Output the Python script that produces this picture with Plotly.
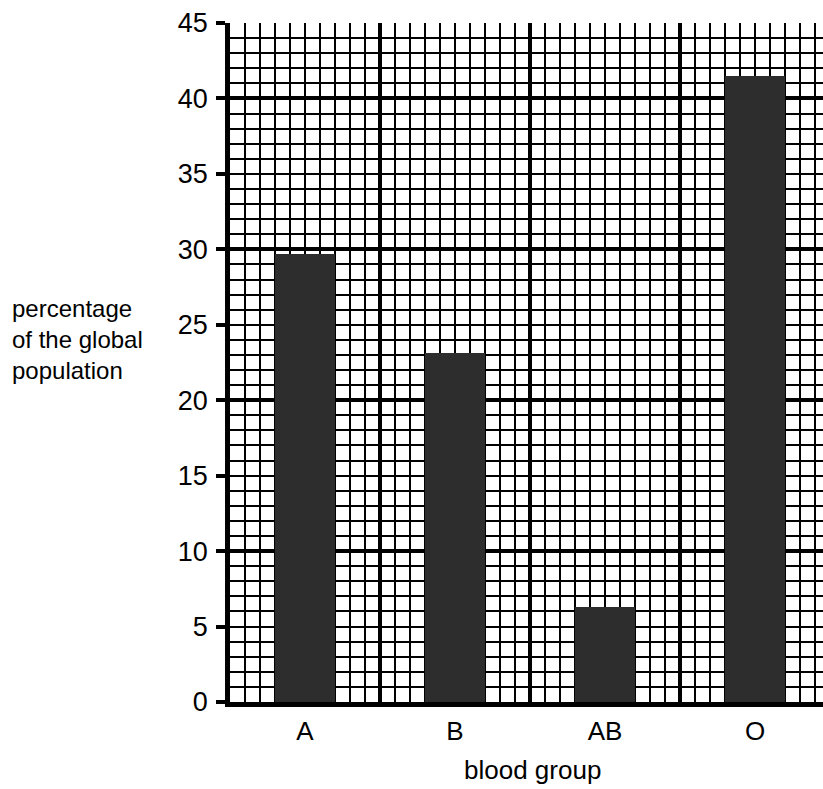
"""Blood group bar chart on graph paper"""
import plotly.graph_objects as go

groups = ["A", "B", "AB", "O"]
percent = [29.7, 23.1, 6.3, 41.5]
y_ticks = [0, 5, 10, 15, 20, 25, 30, 35, 40, 45]
y_title = "percentage<br>of the global<br>population"

FONT = "Liberation Sans, Arial, sans-serif"
W, H = 823, 789
ML, MT, MB = 230, 23, 87
CELL_Y = (H - MT - MB) / 45  # px per y unit
CELL_X = 15.0                # px per graph-paper column
x_max = (W - ML) / CELL_X

# each category sits in the middle of a 10-square block
x_pos = [5 + 10 * i for i in range(len(groups))]

fig = go.Figure()
fig.add_trace(go.Bar(
    x=x_pos, y=percent, width=4,
    marker=dict(color="#2d2d2d", line=dict(width=0)),
    showlegend=False, hoverinfo="skip",
))
# empty trace so the graph-paper axes get their own subplot
fig.add_trace(go.Scatter(x=[], y=[], xaxis="x2", yaxis="y2", showlegend=False))

grid_major = dict(showgrid=True, gridcolor="black", gridwidth=3.5,
                  tick0=0, dtick=10, showticklabels=False, ticks="",
                  zeroline=False, showline=False,
                  minor=dict(showgrid=True, gridcolor="black", gridwidth=2,
                             tick0=0, dtick=1, ticks=""))

fig.update_layout(
    width=W, height=H,
    margin=dict(l=ML, r=0, t=MT, b=MB),
    plot_bgcolor="white", paper_bgcolor="white",
    font=dict(family=FONT, color="black", size=27),
    bargap=0,
    xaxis=dict(range=[0, x_max], tickvals=x_pos, ticktext=groups,
               showgrid=False, zeroline=False, ticks="",
               showline=True, linecolor="black", linewidth=4.5,
               tickfont=dict(size=26), ticklabelstandoff=2),
    yaxis=dict(range=[0, 45], tickvals=y_ticks, showgrid=False,
               zeroline=False, ticks="outside", ticklen=9, tickwidth=3.5,
               tickcolor="black", showline=True, linecolor="black",
               linewidth=4.5, tickfont=dict(size=27), ticklabelstandoff=3),
    xaxis2=dict(overlaying="x", anchor="y", range=[0, x_max], **grid_major),
    yaxis2=dict(overlaying="y", anchor="x", range=[0, 45], **grid_major),
)

fig.add_annotation(
    text=y_title, xref="paper", yref="y",
    x=-(ML - 11) / (W - ML), y=24,
    xanchor="left", yanchor="middle", align="left", showarrow=False,
    borderpad=0, font=dict(size=24),
)
fig.add_annotation(
    text="blood group", xref="paper", yref="paper",
    x=(532 - ML) / (W - ML), y=-68 / (H - MT - MB),
    xanchor="center", yanchor="middle", showarrow=False,
    font=dict(size=26),
)

# drop the page's default body margin so the figure fills the window
fig.write_html(
    "out.html",
    config={"displayModeBar": False},
    post_script="document.body.style.margin='0';document.body.style.overflow='hidden';",
)
